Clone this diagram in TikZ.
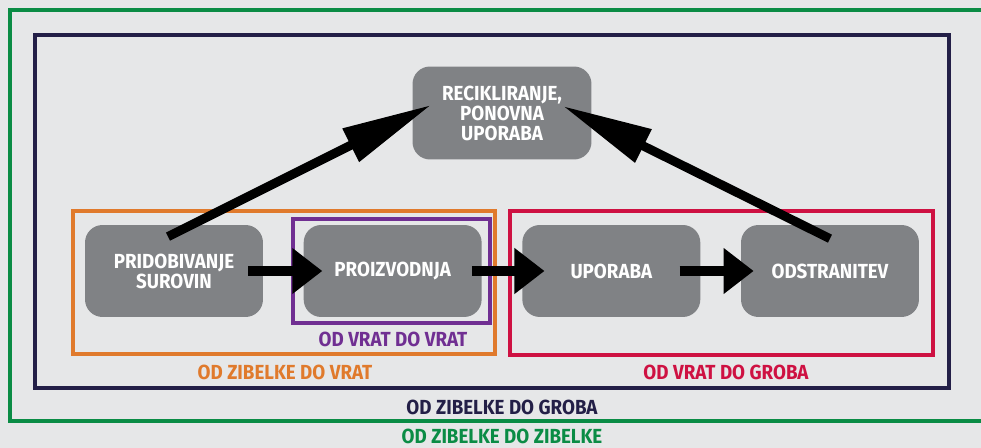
\documentclass[tikz,border=0pt]{standalone}
\usepackage{fontspec}
\setmainfont{Fira Sans}[FakeStretch=0.92]
\usetikzlibrary{positioning,arrows.meta}

\definecolor{bggray}{HTML}{E6E7E8}
\definecolor{boxgray}{HTML}{808285}
\definecolor{lcagreen}{HTML}{0A8C45}
\definecolor{lcanavy}{HTML}{231F47}
\definecolor{lcaorange}{HTML}{E07A2C}
\definecolor{lcapurple}{HTML}{702F92}
\definecolor{lcared}{HTML}{CE1142}

\tikzset{
  stage/.style={fill=boxgray, rounded corners=0.35cm, minimum width=3.56cm,
    minimum height=1.84cm, inner sep=0pt, align=center, text=white,
    font=\bfseries\fontsize{11.6}{11.4}\selectfont},
  flow/.style={line width=0.2cm, -{Triangle[length=0.6cm,width=0.88cm]}},
  backflow/.style={line width=0.18cm, -{Triangle[length=1.8cm,width=0.7cm]}},
  frame/.style={line width=0.07cm},
  tag/.style={inner sep=0pt, font=\bfseries\fontsize{11.6}{11.4}\selectfont}
}

\begin{document}
\begin{tikzpicture}[x=0.02cm, y=-0.02cm]
  \useasboundingbox (0,0) rectangle (981,448);
  \clip (0,0) rectangle (981,448);
  \fill[bggray] (0,0) rectangle (981,448);
  % Frames
  \draw[frame, lcagreen]  (10,10)   rectangle (990,421);
  \draw[frame, lcanavy]   (35,35)   rectangle (949,388);
  \draw[frame, lcaorange] (73,211)  rectangle (495,354);
  \draw[frame, lcapurple] (293,219) rectangle (490,323);
  \draw[frame, lcared]    (510,211) rectangle (933,355);
  % Define nodes
  \node[stage] (prid) at (174,271) {PRIDOBIVANJE\\SUROVIN};
  \node[stage, right=0.8cm of prid]  (proiz) {PROIZVODNJA};
  \node[stage, right=0.8cm of proiz] (upor)  {UPORABA};
  \node[stage, right=0.8cm of upor]  (odstr) {ODSTRANITEV};
  \node[stage, minimum width=3.58cm, minimum height=1.86cm] (recik) at (502,113)
    {RECIKLIRANJE,\\PONOVNA\\UPORABA};
  % Labels
  \node[tag, text=lcapurple] (gg) at (393,339) {OD VRAT DO VRAT};
  \node[tag, text=lcaorange] (cg) at (285,372) {OD ZIBELKE DO VRAT};
  \node[tag, text=lcared]    (gv) at (726,372) {OD VRAT DO GROBA};
  \node[tag, text=lcanavy]   (cv) at (502,407) {OD ZIBELKE DO GROBA};
  \node[tag, text=lcagreen]  (cc) at (502,436) {OD ZIBELKE DO ZIBELKE};
  % Connect nodes
  \draw[flow, shorten <=-0.3cm, shorten >=-0.38cm] (prid) -- (proiz);
  \draw[flow, shorten <=-0.2cm, shorten >=-0.45cm] (proiz) -- (upor);
  \draw[flow, shorten <=-0.42cm, shorten >=-0.26cm] (upor) -- (odstr);
  \draw[backflow] ([xshift=-0.12cm,yshift=-0.24cm]prid.north)
    -- ([xshift=0.38cm,yshift=0.16cm]recik.west);
  \draw[backflow] ([yshift=-0.28cm]odstr.north)
    -- ([xshift=-0.58cm,yshift=0.14cm]recik.east);
\end{tikzpicture}
\end{document}
